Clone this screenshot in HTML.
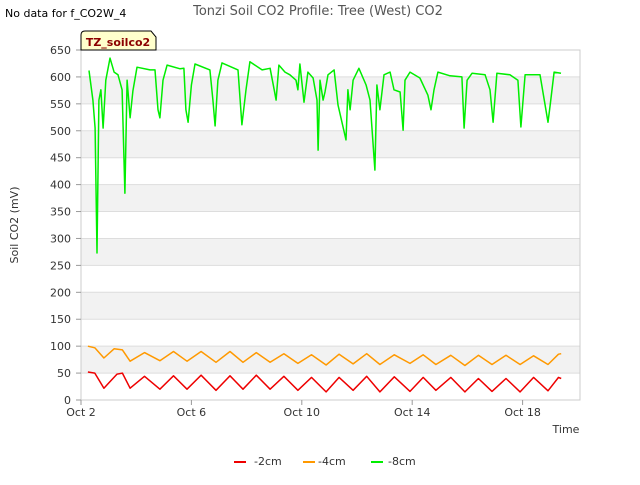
<!DOCTYPE html>
<html><head><meta charset="utf-8"><style>
body{margin:0;background:#fff;font-family:"Liberation Sans","DejaVu Sans",sans-serif;}
svg text{font-family:"DejaVu Sans","Liberation Sans",sans-serif;}
</style></head><body>
<svg width="640" height="480" xmlns="http://www.w3.org/2000/svg">
<g id="bands"></g><g id="grid"></g>
<rect x="81" y="50" width="499" height="350" fill="none" stroke="#ccc"/>
<g id="axes"></g><g id="series"></g>
<text x="5" y="17" font-size="11" fill="#000">No data for f_CO2W_4</text>
<text x="318" y="15" font-size="13" fill="#555" text-anchor="middle">Tonzi Soil CO2 Profile: Tree (West) CO2</text>
<g><path d="M81,50 L81,35 Q81,31 85,31 L151,31 L156,37 L156,50 Z" fill="#ffffcc" stroke="#000"/>
<text x="118" y="46" font-size="11" font-weight="bold" fill="#8b0000" text-anchor="middle">TZ_soilco2</text></g>
<text x="18" y="225" font-size="11" fill="#333" text-anchor="middle" transform="rotate(-90 18 225)">Soil CO2 (mV)</text>
<text x="566" y="433" font-size="11" fill="#333" text-anchor="middle">Time</text>
<g>
<g><line x1="234" y1="462" x2="246" y2="462" stroke="#e00" stroke-width="2"/><text x="254" y="465" font-size="11" fill="#333">-2cm</text></g>
<g><line x1="303" y1="462" x2="315" y2="462" stroke="#f90" stroke-width="2"/><text x="318" y="465" font-size="11" fill="#333">-4cm</text></g>
<g><line x1="371" y1="462" x2="383" y2="462" stroke="#0e0" stroke-width="2"/><text x="388" y="465" font-size="11" fill="#333">-8cm</text></g>
</g>
</svg>
<script>
const yTicks=[0,50,100,150,200,250,300,350,400,450,500,550,600,650];
const xTickDays=[0,4,8,12,16];
const xTickLabels=["Oct 2","Oct 6","Oct 10","Oct 14","Oct 18"];
const red=[[0.25,52],[0.5,50],[0.83,22],[1.3,48],[1.5,50],[1.78,22],[2.3,44],[2.86,20],[3.35,45],[3.84,20],[4.35,46],[4.89,18],[5.4,45],[5.87,20],[6.35,46],[6.85,20],[7.35,44],[7.86,18],[8.35,42],[8.88,15],[9.35,42],[9.86,18],[10.35,44],[10.83,15],[11.35,43],[11.92,16],[12.4,42],[12.86,18],[13.4,42],[13.91,15],[14.4,40],[14.89,16],[15.4,40],[15.91,15],[16.4,42],[16.92,17],[17.3,42],[17.4,40]];
const orange=[[0.25,100],[0.5,97],[0.83,78],[1.2,95],[1.5,93],[1.78,72],[2.3,88],[2.86,73],[3.35,90],[3.84,72],[4.35,90],[4.89,70],[5.4,90],[5.87,70],[6.35,88],[6.85,70],[7.35,86],[7.86,68],[8.35,84],[8.88,65],[9.35,85],[9.86,67],[10.35,86],[10.83,66],[11.35,84],[11.92,68],[12.4,84],[12.86,66],[13.4,83],[13.91,64],[14.4,83],[14.89,66],[15.4,83],[15.91,66],[16.4,82],[16.92,66],[17.3,85],[17.4,86]];
const green=[[0.29,612],[0.43,557],[0.51,505],[0.58,273],[0.65,557],[0.72,576],[0.8,505],[0.9,594],[1.05,635],[1.2,609],[1.34,604],[1.49,576],[1.59,384],[1.67,594],[1.78,524],[1.88,574],[2.03,618],[2.5,613],[2.68,613],[2.79,539],[2.86,524],[2.97,594],[3.12,622],[3.59,615],[3.73,616],[3.8,539],[3.88,516],[4.0,585],[4.13,624],[4.67,613],[4.78,557],[4.86,509],[4.96,594],[5.11,626],[5.69,613],[5.83,511],[5.98,576],[6.12,628],[6.56,613],[6.85,616],[7.0,576],[7.07,557],[7.17,622],[7.39,609],[7.57,604],[7.79,594],[7.86,576],[7.93,624],[8.08,553],[8.22,609],[8.41,598],[8.55,557],[8.59,464],[8.66,594],[8.77,557],[8.84,572],[8.95,604],[9.17,613],[9.31,548],[9.6,483],[9.67,576],[9.75,539],[9.86,594],[10.07,616],[10.33,585],[10.47,557],[10.65,427],[10.72,585],[10.83,539],[10.98,604],[11.2,609],[11.34,576],[11.56,572],[11.67,501],[11.74,594],[11.92,609],[12.28,598],[12.57,566],[12.68,539],[12.79,576],[12.93,609],[13.37,602],[13.8,600],[13.88,505],[13.99,594],[14.17,607],[14.64,604],[14.82,576],[14.93,516],[15.07,607],[15.54,604],[15.83,594],[15.94,507],[16.09,604],[16.63,604],[16.92,516],[17.0,548],[17.14,609],[17.39,607]];
const X0=81,PX_DAY=27.6,Y0=400,PX_UNIT=350/650;
const xs=d=>X0+d*PX_DAY, ys=v=>Y0-v*PX_UNIT;
const NS="http://www.w3.org/2000/svg";
const bands=document.getElementById('bands'),grid=document.getElementById('grid'),axes=document.getElementById('axes'),ser=document.getElementById('series');
for(let i=1;i<yTicks.length-1;i+=2){const r=document.createElementNS(NS,'rect');
r.setAttribute('x',81);r.setAttribute('width',499);r.setAttribute('y',ys(yTicks[i+1]));r.setAttribute('height',ys(yTicks[i])-ys(yTicks[i+1]));r.setAttribute('fill','#f2f2f2');


bands.appendChild(r);}
yTicks.forEach(t=>{const l=document.createElementNS(NS,'line');
l.setAttribute('x1',81);l.setAttribute('x2',580);l.setAttribute('y1',ys(t));l.setAttribute('y2',ys(t));l.setAttribute('stroke','#ddd');


grid.appendChild(l);
const tx=document.createElementNS(NS,'text');tx.setAttribute('x',71);tx.setAttribute('y',ys(t)+4);tx.setAttribute('font-size','11');tx.setAttribute('fill','#333');tx.setAttribute('text-anchor','end');tx.textContent=t;


axes.appendChild(tx);
const tk=document.createElementNS(NS,'line');tk.setAttribute('x1',76);tk.setAttribute('x2',81);tk.setAttribute('y1',ys(t));tk.setAttribute('y2',ys(t));tk.setAttribute('stroke','#999');


axes.appendChild(tk);});
xTickDays.forEach((d,i)=>{const tk=document.createElementNS(NS,'line');tk.setAttribute('x1',xs(d));tk.setAttribute('x2',xs(d));tk.setAttribute('y1',400);tk.setAttribute('y2',405);tk.setAttribute('stroke','#999');


axes.appendChild(tk);
const tx=document.createElementNS(NS,'text');tx.setAttribute('x',xs(d));tx.setAttribute('y',416);tx.setAttribute('font-size','11');tx.setAttribute('fill','#333');tx.setAttribute('text-anchor','middle');tx.textContent=xTickLabels[i];


axes.appendChild(tx);});
function draw(data,color,name){const p=document.createElementNS(NS,'polyline');
p.setAttribute('points',data.map(a=>xs(a[0]).toFixed(1)+','+ys(a[1]).toFixed(1)).join(' '));
p.setAttribute('fill','none');p.setAttribute('stroke',color);p.setAttribute('stroke-width','1.5');p.setAttribute('stroke-linejoin','round');


ser.appendChild(p);}
draw(red,'#e00','series-2cm');draw(orange,'#f90','series-4cm');draw(green,'#0e0','series-8cm');
</script>
</body></html>
